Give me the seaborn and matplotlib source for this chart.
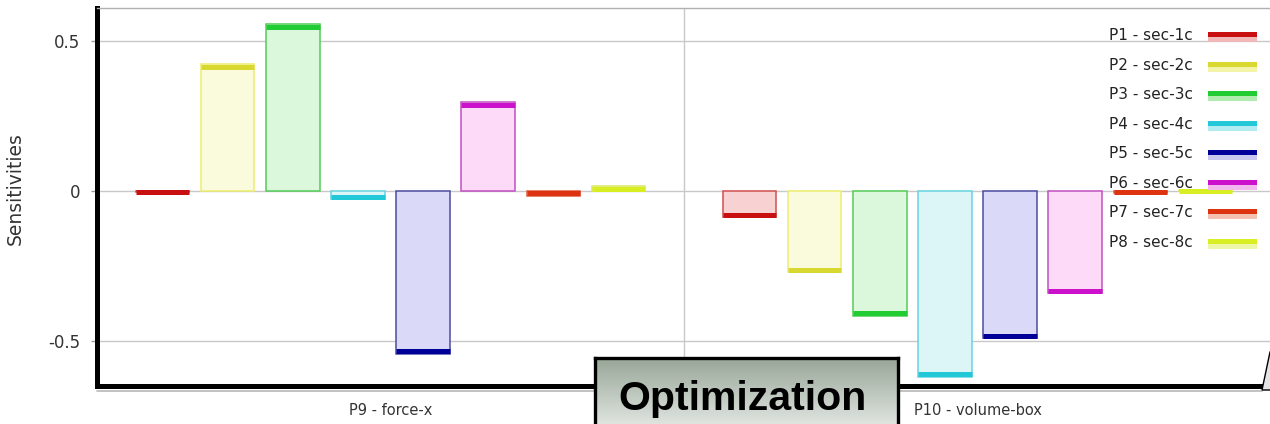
import numpy as np
import pandas as pd
import matplotlib
matplotlib.use("Agg")
import matplotlib.pyplot as plt
from matplotlib.colors import LinearSegmentedColormap
from matplotlib.lines import Line2D
from matplotlib.patches import Rectangle, Polygon
import seaborn as sns

# --- data -------------------------------------------------------------
categories = ["P9 - force-x", "P10 - volume-box"]
series = ["P1 - sec-1c", "P2 - sec-2c", "P3 - sec-3c", "P4 - sec-4c",
          "P5 - sec-5c", "P6 - sec-6c", "P7 - sec-7c", "P8 - sec-8c"]
force_x = [-0.004, 0.425, 0.558, -0.028, -0.545, 0.298, -0.015, 0.016]
volume_box = [-0.088, -0.272, -0.418, -0.622, -0.493, -0.342, -0.006, 0.002]
y_ticks = [-0.5, 0, 0.5]
y_tick_labels = ["-0.5", "0", "0.5"]

# colours per series: bar fill, bar outline, thick value-end stroke
fill_colors = ["#f8d2d2", "#fafadc", "#dcf8dc", "#dcf6f8",
               "#dadaf8", "#fcdaf8", "#fadcd4", "#f6fcd8"]
edge_colors = ["#d05050", "#eeee70", "#55cc55", "#66d4e0",
               "#4c4ca0", "#c050c0", "#e06040", "#dde860"]
line_colors = ["#c81010", "#d8d830", "#22cc33", "#22c8d8",
               "#000099", "#cc11cc", "#dd3311", "#d8ee22"]
band_colors = ["#f2b8b8", "#f4f4a8", "#b0ecb0", "#b0ecf2",
               "#c8c8ee", "#f2b8ee", "#f4c0b0", "#eef6a8"]

df = pd.DataFrame({
    "parameter": np.repeat(categories, len(series)),
    "series": series * len(categories),
    "sensitivity": force_x + volume_box,
})

# --- style ------------------------------------------------------------
sns.set_style("white")
plt.rcParams["font.family"] = ["DejaVu Sans"]

W, H = 1270, 424
fig = plt.figure(figsize=(W / 100, H / 100), dpi=100)
ax = fig.add_axes([97 / W, 1 - 386 / H, (1271 - 97) / W, (386 - 8) / H])

sns.barplot(data=df, x="parameter", y="sensitivity", hue="series",
            order=categories, hue_order=series, palette=fill_colors,
            width=0.886, gap=0.184, saturation=1, legend=False,
            errorbar=None, ax=ax, zorder=3)

px_per_unit = 300.0
for i, cont in enumerate(ax.containers):
    for bar in cont:
        bar.set_facecolor(fill_colors[i])
        bar.set_edgecolor(edge_colors[i])
        bar.set_linewidth(1.1)
        x0, w = bar.get_x(), bar.get_width()
        v = bar.get_y() + bar.get_height()
        # heavy stroke at the value end of the bar, drawn just inside it
        sign = 1 if v >= 0 else -1
        shift = sign * min(abs(v), 5.5 / px_per_unit) / 2
        ax.plot([x0, x0 + w], [v - shift, v - shift], color=line_colors[i],
                lw=3.6, solid_capstyle="butt", zorder=4)

ax.set_xlim(-0.5, 1.5)
ax.set_ylim(-0.652, 0.612)

# grid: horizontal at ticks, one vertical separator between groups
ax.set_yticks(y_ticks)
ax.set_yticklabels(y_tick_labels)
ax.set_xticks([0, 1])
ax.set_xticklabels(categories)
ax.set_xticks([0.5], minor=True)
ax.grid(False)
ax.yaxis.grid(True, color="#c8c8c8", lw=1.0, zorder=0)
ax.xaxis.grid(True, which="minor", color="#c8c8c8", lw=1.0, zorder=0)
ax.set_axisbelow(True)

ax.tick_params(axis="y", which="major", length=4, width=1, color="#9a9a9a",
               labelsize=12, labelcolor="#333333", pad=8, left=True)
ax.tick_params(axis="x", which="both", length=0, labelsize=10.5,
               labelcolor="#333333", pad=12)

ax.set_xlabel("")
ax.set_ylabel("Sensitivities", fontsize=13.5, color="#333333")
ax.yaxis.set_label_coords(-0.0613, 0.5225)

for side in ("left", "bottom"):
    ax.spines[side].set_color("black")
    ax.spines[side].set_linewidth(3.6)
ax.spines["top"].set_color("#b0b0b0")
ax.spines["top"].set_linewidth(1.0)
ax.spines["right"].set_visible(False)

# faint shadow under the bottom axis line
fig.add_artist(Line2D([97 / W, 1262 / W], [1 - 390.5 / H, 1 - 390.5 / H],
                      color="#b8b8b8", lw=1.2))


# --- legend: label on the left, bar-end swatch on the right -----------
class BarEndHandler:
    def __init__(self, band):
        self.band = band

    def legend_artist(self, legend, orig_handle, fontsize, handlebox):
        x0, y0 = -handlebox.xdescent, -handlebox.ydescent
        w, h = handlebox.width, handlebox.height
        c = h / 2
        light = Rectangle((x0, y0 + c - 5.4), w, 3.6, facecolor=self.band,
                          edgecolor="none", transform=handlebox.get_transform())
        dark = Rectangle((x0, y0 + c - 1.8), w, 3.6,
                         facecolor=orig_handle.get_color(), edgecolor="none",
                         transform=handlebox.get_transform())
        handlebox.add_artist(light)
        handlebox.add_artist(dark)
        return dark


handles = [Line2D([], [], color=c) for c in line_colors]
handler_map = {h: BarEndHandler(b) for h, b in zip(handles, band_colors)}
leg = ax.legend(handles, series, handler_map=handler_map,
                loc="upper right", bbox_to_anchor=(1257 / W, 1 - 28 / H),
                bbox_transform=fig.transFigure, frameon=False,
                markerfirst=False, fontsize=11, handlelength=3.2,
                handletextpad=1.0, labelspacing=0.95, borderpad=0,
                borderaxespad=0)
for t in leg.get_texts():
    t.set_color("#222222")

# --- "Optimization" caption box ---------------------------------------
box = fig.add_axes([595 / W, 0, 303 / W, 66 / H], zorder=10)
grad = LinearSegmentedColormap.from_list("boxgrad", ["#dfe4df", "#97a697"])
box.imshow(np.linspace(0, 1, 256).reshape(-1, 1), aspect="auto",
           cmap=grad, origin="lower", extent=(0, 1, 0, 1))
box.set_xlim(0, 1)
box.set_ylim(0, 1)
box.set_xticks([])
box.set_yticks([])
for side in ("left", "right", "top"):
    box.spines[side].set_color("black")
    box.spines[side].set_linewidth(2.4)
box.spines["bottom"].set_visible(False)
box.text(0.488, 0.212, "Optimization", ha="center", va="baseline",
         fontsize=29.5, fontweight="bold", family="Liberation Sans",
         color="black")

# edge of a neighbouring caption box at the right border
fig.add_artist(Polygon([(1262 / W, 1 - 390 / H), (1270 / W, 1 - 352 / H),
                        (1272 / W, 1 - 352 / H), (1272 / W, 1 - 390 / H)],
                       closed=True, facecolor="#e4e4e4", edgecolor="black",
                       lw=1.0, zorder=11))

fig.savefig("out.png", dpi=100)
